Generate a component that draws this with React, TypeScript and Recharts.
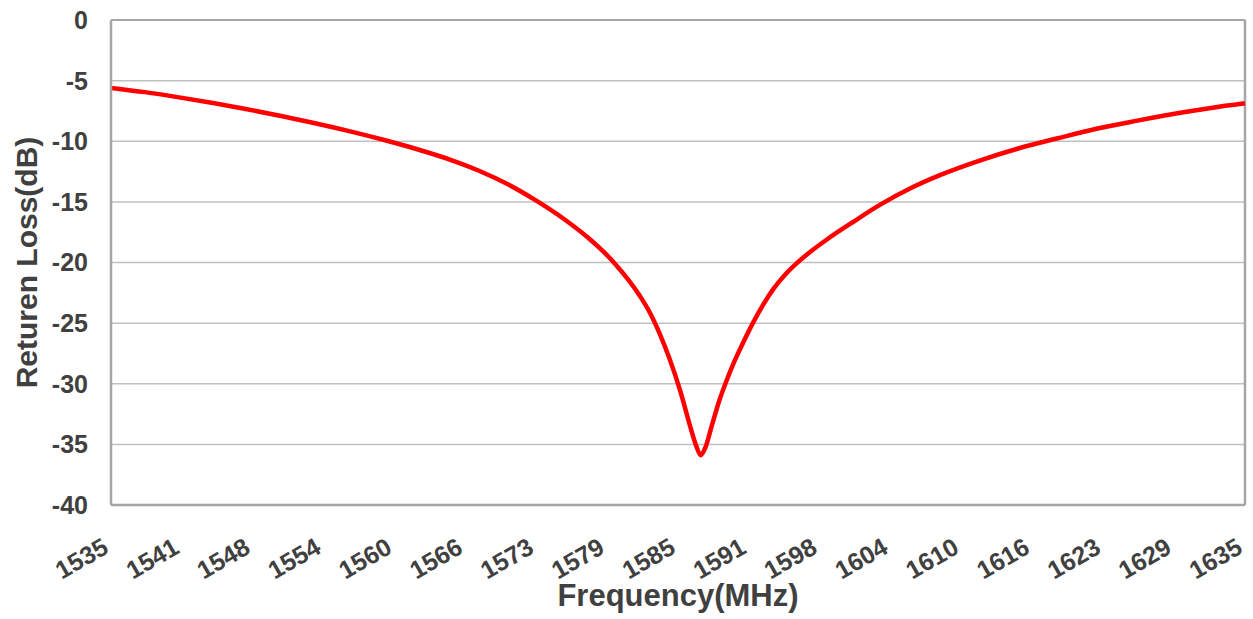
/**
 * Return loss vs frequency chart
 */
import {
    LineChart,
    Line,
    XAxis,
    YAxis,
    CartesianGrid,
    ReferenceLine,
    Label,
} from 'recharts';

const freqMHz = [
    1535, 1538, 1541, 1544, 1547, 1550, 1553, 1556, 1559, 1562, 1565, 1567.5,
    1570, 1572.5, 1575, 1577, 1579.3, 1581.6, 1582.5, 1583.4, 1584.2, 1585.2,
    1586.1, 1586.6, 1587.0, 1587.4, 1588.0, 1588.6, 1589.3, 1590.0, 1590.8,
    1591.6, 1592.5, 1593.4, 1594.5, 1595.6, 1596.9, 1598.1, 1600.4, 1602.8,
    1605.5, 1608.1, 1611.6, 1615, 1618.5, 1622, 1625.5, 1629.3, 1632, 1635,
];
const returnLossDb = [
    -5.6, -5.95, -6.38, -6.85, -7.36, -7.92, -8.52, -9.17, -9.88, -10.66, -11.55, -12.45,
    -13.55, -14.9, -16.45, -17.9, -19.95, -22.7, -24.1, -25.9, -27.8, -30.6,
    -33.6, -35.1, -35.9, -35.3, -33.4, -31.5, -29.7, -28.1, -26.5,
    -25.0, -23.5, -22.2, -20.95, -19.95, -18.95, -18.12, -16.68, -15.25,
    -13.88, -12.8, -11.6, -10.6, -9.75, -8.95, -8.3, -7.65, -7.25, -6.87,
];

const freqTicks = [
    1535, 1541.25, 1547.5, 1553.75, 1560, 1566.25, 1572.5, 1578.75, 1585,
    1591.25, 1597.5, 1603.75, 1610, 1616.25, 1622.5, 1628.75, 1635,
];
const freqTickLabels = [
    '1535', '1541', '1548', '1554', '1560', '1566', '1573', '1579', '1585',
    '1591', '1598', '1604', '1610', '1616', '1623', '1629', '1635',
];
const dbTicks = [0, -5, -10, -15, -20, -25, -30, -35, -40];

const data = freqMHz.map((f, i) => ({ freq: f, rl: returnLossDb[i] }));

const TEXT = '#404040';
const FONT = '"Liberation Sans", Arial, sans-serif';

// 斜體刻度標籤
const FreqTick = ({ x, y, payload }: any) => {
    const idx = freqTicks.indexOf(payload.value);
    const label = idx >= 0 ? freqTickLabels[idx] : String(payload.value);
    const tx = x - 1;
    const ty = y + 45;
    return (
        <text
            x={tx}
            y={ty}
            transform={`rotate(-30, ${tx}, ${ty})`}
            textAnchor="end"
            fill={TEXT}
            fontSize={25}
            fontWeight="bold"
            fontFamily={FONT}
        >
            {label}
        </text>
    );
};

export default function App() {
    return (
        <div style={{ position: 'absolute', left: 0, top: 0, background: '#fff' }}>
            <LineChart
                width={1253}
                height={619}
                data={data}
                margin={{ top: 20, right: 8, left: 0, bottom: 0 }}
            >
                <CartesianGrid vertical={false} stroke="#C0C0C0" strokeWidth={1.5} />
                <XAxis
                    dataKey="freq"
                    type="number"
                    domain={[1535, 1635]}
                    ticks={freqTicks}
                    interval={0}
                    height={114}
                    tick={<FreqTick />}
                    tickLine={false}
                    tickSize={0}
                    axisLine={{ stroke: '#A6A6A6', strokeWidth: 2.5 }}
                >
                    <Label
                        value="Frequency(MHz)"
                        position="insideBottom"
                        offset={13}
                        fill={TEXT}
                        fontSize={31}
                        fontWeight="bold"
                        fontFamily={FONT}
                    />
                </XAxis>
                <YAxis
                    type="number"
                    domain={[-40, 0]}
                    ticks={dbTicks}
                    interval={0}
                    width={111}
                    tickLine={false}
                    tickSize={0}
                    tickMargin={23}
                    tick={{ fill: TEXT, fontSize: 25, fontWeight: 'bold', fontFamily: FONT }}
                    axisLine={{ stroke: '#A6A6A6', strokeWidth: 2.5 }}
                >
                    <Label
                        value="Returen Loss(dB)"
                        angle={-90}
                        position="center"
                        dx={-29}
                        fill={TEXT}
                        fontSize={30}
                        fontWeight="bold"
                        fontFamily={FONT}
                    />
                </YAxis>
                <ReferenceLine y={0} stroke="#A6A6A6" strokeWidth={2} />
                <ReferenceLine x={1635} stroke="#A6A6A6" strokeWidth={2.5} />

                {/* 回波損耗曲線 */}
                <Line
                    type="monotone"
                    dataKey="rl"
                    stroke="#FF0000"
                    strokeWidth={4.5}
                    dot={false}
                    activeDot={false}
                    isAnimationActive={false}
                />
            </LineChart>
        </div>
    );
}
